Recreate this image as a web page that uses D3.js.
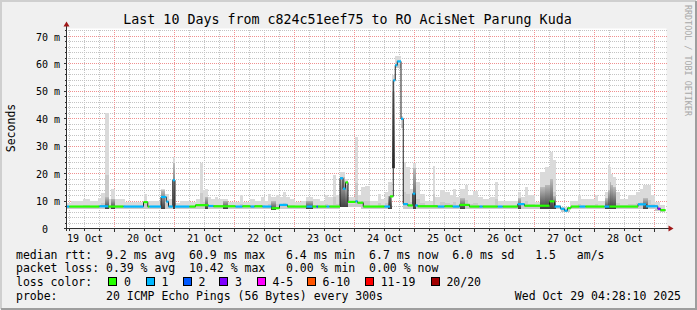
<!DOCTYPE html>
<html>
<head>
<meta charset="utf-8">
<script src="https://cdn.jsdelivr.net/npm/d3@7"></script>
<style>
  body { margin: 0; background: #f0f0f0; }
  svg text { font-family: "DejaVu Sans Mono", monospace; white-space: pre; fill: #000; }
</style>
</head>
<body>
<svg width="697" height="310"></svg>
<script>
// ---- data ----
const title = 'Last 10 Days from c824c51eef75 to RO AcisNet Parung Kuda';
const yTicks = [0, 10, 20, 30, 40, 50, 60, 70];      // ms
const yMax = 72.9;
const startHour = 4.8;                                  // hours after 19 Oct 00:00
const endHour = 244.8;
const lossLabels = ['0', '1', '2', '3', '4-5', '6-10', '11-19', '20/20'];
const lossColors = ['#26ff00', '#00b8ff', '#0059ff', '#7e00ff', '#ff00ff', '#ff5500', '#ff0000', '#a10000'];

// median rtt: [fromHour, toHour, ms, lossIndex]
const medianSegs = [
  [4.8, 6.0, 8.0, 1], [6.0, 18.0, 8.0, 0], [18.0, 21.6, 8.1, 1], [21.6, 27.6, 8.0, 0],
  [27.6, 35.6, 8.0, 1], [35.6, 37.3, 9.6, 0], [37.3, 38.0, 8.0, 0], [38.0, 42.6, 8.0, 1],
  [42.6, 44.7, 11.5, 1], [44.7, 45.6, 9.8, 1], [45.6, 47.3, 8.0, 1], [47.3, 48.2, 17.6, 1],
  [48.2, 54.0, 8.0, 1], [54.0, 56.4, 8.0, 0], [56.4, 61.6, 8.5, 0], [61.6, 63.6, 8.2, 1],
  [63.6, 72.4, 8.1, 0], [72.4, 75.2, 8.0, 1], [75.2, 78.4, 8.1, 0], [78.4, 80.0, 8.0, 1],
  [80.0, 83.2, 8.1, 0], [83.2, 86.8, 8.0, 1], [86.8, 90.0, 7.4, 0], [90.0, 93.2, 8.6, 1],
  [93.2, 100.8, 8.0, 0], [100.8, 103.2, 8.0, 1], [103.2, 104.8, 8.0, 0], [104.8, 105.4, 8.0, 2],
  [105.4, 108.8, 8.0, 0], [108.8, 110.0, 8.0, 1], [110.0, 114.2, 8.0, 0], [114.2, 115.4, 18.3, 1],
  [115.4, 116.4, 14.5, 1], [116.4, 117.4, 16.8, 0], [117.4, 120.4, 9.7, 0], [120.4, 121.2, 9.9, 1],
  [121.2, 123.5, 9.4, 0], [123.5, 132.0, 8.0, 0], [132.0, 134.2, 8.0, 1], [134.2, 135.5, 11.7, 0],
  [135.5, 136.3, 54.0, 1], [136.3, 137.1, 59.5, 1], [137.1, 138.6, 60.9, 1], [138.6, 139.5, 40.0, 1],
  [139.5, 141.3, 8.9, 1], [141.3, 143.3, 8.4, 0], [143.3, 144.3, 12.7, 1], [144.3, 145.3, 8.4, 1],
  [145.3, 153.3, 8.1, 0], [153.3, 156.0, 8.0, 1], [156.0, 159.3, 8.1, 0], [159.3, 162.0, 8.0, 1],
  [162.0, 166.0, 8.6, 0], [166.0, 170.0, 8.0, 0], [170.0, 171.3, 8.0, 1], [171.3, 177.3, 8.0, 0],
  [177.3, 179.3, 8.0, 1], [179.3, 185.3, 8.0, 0], [185.3, 188.0, 8.9, 1], [188.0, 198.0, 8.3, 0],
  [198.0, 200.0, 9.9, 0], [200.0, 202.4, 8.0, 1], [202.4, 204.0, 7.2, 1], [204.0, 205.2, 6.5, 1],
  [205.2, 206.6, 7.4, 0], [206.6, 210.0, 8.0, 0], [210.0, 212.4, 8.0, 1], [212.4, 220.0, 8.0, 0],
  [220.0, 222.0, 8.0, 1], [222.0, 233.4, 8.0, 0], [233.4, 236.6, 8.8, 1], [236.6, 241.3, 8.1, 1],
  [241.3, 242.4, 7.2, 3], [242.4, 244.4, 6.7, 0]
];

// smoke: [fromHour, toHour, minMs, maxMs, darkTopMs (0 = none)]
const smokeSegs = [
  [5.1, 6.7, 7.2, 9.3, 0], [6.7, 11.2, 7.2, 10.0, 0], [11.2, 14.0, 7.2, 10.6, 0], [14.0, 17.2, 7.2, 10.0, 0],
  [17.2, 18.4, 7.2, 11.1, 0], [18.4, 20.3, 7.2, 13.0, 0], [20.3, 21.7, 7.2, 42.0, 11.5], [21.7, 22.4, 7.2, 10.9, 0],
  [22.4, 24.0, 7.2, 14.3, 10.9], [24.0, 28.0, 7.2, 10.9, 0], [28.0, 35.6, 7.2, 9.6, 0], [35.6, 36.8, 7.2, 12.4, 0],
  [36.8, 42.4, 7.2, 10.2, 0], [42.4, 44.0, 7.2, 14.3, 13.9], [44.0, 45.6, 7.2, 12.7, 0], [45.6, 47.3, 7.2, 10.9, 0],
  [47.3, 48.3, 7.2, 26.1, 24.0], [48.3, 50.0, 7.2, 9.3, 0], [50.0, 54.0, 7.2, 10.2, 0], [54.0, 56.7, 7.2, 9.6, 0],
  [56.7, 58.0, 7.2, 10.9, 0], [58.0, 59.3, 7.2, 23.7, 0], [59.3, 60.0, 7.2, 13.9, 0], [60.0, 61.3, 7.2, 14.5, 11.5],
  [61.3, 62.7, 7.2, 11.5, 0], [62.7, 64.0, 7.2, 10.9, 0], [64.0, 65.3, 7.2, 11.5, 0], [65.3, 67.3, 7.2, 10.9, 0],
  [67.3, 69.3, 7.2, 10.9, 10.2], [69.3, 74.0, 7.2, 9.6, 0], [74.0, 75.3, 7.2, 12.1, 0], [75.3, 78.0, 7.2, 9.6, 0],
  [78.0, 80.0, 7.2, 10.6, 0], [80.0, 82.7, 7.2, 10.0, 0], [82.7, 84.0, 7.2, 11.5, 0], [84.0, 85.3, 7.2, 10.2, 0],
  [85.3, 86.7, 7.2, 12.4, 0], [86.7, 88.7, 6.8, 11.5, 10.0], [88.7, 90.0, 7.2, 12.1, 0], [90.0, 91.3, 7.2, 11.5, 0],
  [91.3, 92.7, 7.2, 13.3, 0], [92.7, 94.0, 7.2, 11.5, 0], [94.0, 96.0, 7.2, 10.9, 0], [96.0, 98.7, 7.2, 9.6, 0],
  [98.7, 100.7, 7.2, 10.2, 0], [100.7, 103.3, 7.2, 11.5, 10.2], [103.3, 106.0, 7.2, 10.9, 0], [106.0, 108.0, 7.2, 10.2, 0],
  [108.0, 109.3, 7.2, 12.1, 0], [109.3, 111.3, 7.2, 11.5, 0], [111.3, 112.7, 7.2, 19.4, 0], [112.7, 114.0, 7.2, 12.1, 0],
  [114.0, 116.0, 7.8, 20.6, 18.8], [116.0, 117.3, 7.8, 18.2, 16.0], [117.3, 120.0, 7.8, 11.5, 0], [120.0, 121.3, 7.8, 33.4, 0],
  [121.3, 122.7, 7.8, 12.1, 0], [122.7, 124.0, 7.2, 15.1, 0], [124.0, 126.0, 7.2, 15.4, 0], [126.0, 129.3, 7.2, 10.2, 0],
  [129.3, 130.7, 7.2, 12.7, 0], [130.7, 132.0, 7.2, 10.9, 0], [132.0, 133.3, 7.2, 13.3, 0], [133.3, 134.9, 7.2, 17.0, 12.0],
  [134.9, 136.0, 22.0, 56.0, 50.0], [136.0, 138.4, 58.5, 62.7, 0], [138.4, 139.5, 36.5, 41.0, 0], [139.5, 140.7, 7.2, 24.3, 0],
  [140.7, 142.0, 7.2, 22.4, 0], [142.0, 143.3, 7.2, 14.5, 0], [143.3, 144.4, 7.2, 23.7, 22.0], [144.4, 146.0, 7.2, 16.9, 0],
  [146.0, 148.0, 7.2, 12.7, 0], [148.0, 151.3, 7.2, 10.2, 0], [151.3, 152.3, 7.2, 22.7, 0], [152.3, 154.0, 7.2, 11.5, 0],
  [154.0, 156.0, 7.2, 13.9, 0], [156.0, 158.0, 7.2, 13.3, 0], [158.0, 159.3, 7.2, 12.1, 0], [159.3, 160.7, 7.2, 14.5, 0],
  [160.7, 162.0, 7.2, 11.5, 0], [162.0, 164.0, 7.2, 14.5, 11.0], [164.0, 165.3, 7.2, 16.0, 0], [165.3, 167.3, 7.2, 12.1, 0],
  [167.3, 169.3, 7.2, 13.5, 0], [169.3, 171.3, 7.2, 11.5, 0], [171.3, 174.0, 7.2, 10.9, 0], [174.0, 176.3, 7.2, 11.5, 0],
  [176.3, 177.3, 7.2, 16.9, 0], [177.3, 185.3, 7.2, 10.2, 0], [185.3, 186.7, 7.2, 13.3, 11.0], [186.7, 188.0, 7.2, 11.5, 0],
  [188.0, 189.3, 7.2, 15.1, 0], [189.3, 192.0, 7.2, 12.1, 0], [192.0, 194.0, 7.2, 9.6, 0], [194.0, 196.0, 7.2, 20.6, 15.0],
  [196.0, 198.0, 7.2, 22.4, 16.0], [198.0, 199.3, 7.2, 27.9, 18.0], [199.3, 200.7, 7.2, 24.9, 12.0], [200.7, 202.7, 7.2, 8.4, 0],
  [202.7, 206.0, 6.0, 8.0, 0], [206.0, 209.3, 7.2, 10.2, 0], [209.3, 210.7, 7.2, 12.1, 0], [210.7, 216.0, 7.2, 10.9, 0],
  [216.0, 217.3, 7.2, 12.1, 0], [217.3, 220.0, 7.2, 10.2, 0], [220.0, 221.3, 7.2, 13.3, 11.0], [221.3, 222.0, 7.2, 23.1, 14.0],
  [222.0, 222.7, 7.2, 22.4, 17.0], [222.7, 223.3, 7.2, 20.0, 16.0], [223.3, 224.7, 7.2, 18.8, 15.0], [224.7, 226.0, 7.2, 13.3, 0],
  [226.0, 229.3, 7.2, 10.9, 0], [229.3, 232.7, 7.2, 12.1, 0], [232.7, 234.0, 7.2, 13.3, 0], [234.0, 235.3, 7.2, 14.5, 0],
  [235.3, 237.3, 7.2, 15.7, 11.0], [237.3, 238.4, 7.2, 16.0, 0], [238.4, 240.0, 7.2, 12.1, 0], [240.0, 242.0, 6.5, 9.6, 0],
  [242.0, 244.3, 6.0, 8.4, 0]
];

const rttStats = [9.2, 60.9, 6.4, 6.7, 6.0, 1.5];   // avg, max, min, now, sd, am/s
const lossStats = [0.39, 10.42, 0.00, 0.00];         // avg, max, min, now
const probeText = '20 ICMP Echo Pings (56 Bytes) every 300s';
const stamp = 'Wed Oct 29 04:28:10 2025';

// ---- drawing ----
const W = 697, H = 310;
const pL = 66.5, pR = 666.5, pT = 28.5, pB = 228.5;
const base = Date.UTC(2025, 9, 19);
const toDate = (h) => new Date(base + h * 3600e3);

const x = d3.scaleUtc().domain([toDate(startHour), toDate(endHour)]).range([pL, pR]);
const y = d3.scaleLinear().domain([0, yMax]).range([pB, pT]);
const xh = (h) => x(toDate(h));
const px = (v) => Math.floor(v);

const svg = d3.select('svg');
const defs = svg.append('defs');

// background + 3d border
svg.append('rect').attr('width', W).attr('height', H).attr('fill', '#f0f0f0');
svg.append('path').attr('d', `M1,${H - 1}V1H${W - 1}`).attr('fill', 'none')
  .attr('stroke', '#cfcfcf').attr('stroke-width', 2);
svg.append('path').attr('d', `M1,${H - 1}H${W - 1}V1`).attr('fill', 'none')
  .attr('stroke', '#9e9e9e').attr('stroke-width', 2);
svg.append('rect').attr('x', pL).attr('y', pT).attr('width', pR - pL).attr('height', pB - pT)
  .attr('fill', '#fff');

// dotted grid drawn as 1px strips filled with an on/off pixel pattern
function dotPattern(id, col, horizontal) {
  const p = defs.append('pattern').attr('id', id).attr('patternUnits', 'userSpaceOnUse')
    .attr('width', horizontal ? 2 : 1).attr('height', horizontal ? 1 : 2);
  p.append('rect').attr('width', 1).attr('height', 1).attr('fill', col);
}
dotPattern('hmin', '#c4c4c4', true);
dotPattern('vmin', '#c4c4c4', false);
dotPattern('hmaj', '#f09090', true);
dotPattern('vmaj', '#f09090', false);

const grid = svg.append('g').attr('shape-rendering', 'crispEdges');
const hStrip = (sel, pat) => sel
  .attr('x', 67).attr('width', 600).attr('y', (d) => px(y(d))).attr('height', 1)
  .attr('fill', `url(#${pat})`);
const vStrip = (sel, pat) => sel
  .attr('x', (d) => px(x(d))).attr('width', 1).attr('y', 29).attr('height', 199)
  .attr('fill', `url(#${pat})`);
const minorY = d3.range(0, yMax, 2).filter((v) => v % 10 !== 0);
const sixHours = d3.utcHour.every(6).range(toDate(startHour), toDate(endHour));
const days = d3.utcDay.range(toDate(startHour), toDate(endHour));
grid.selectAll('.hmin').data(minorY).join('rect').call(hStrip, 'hmin');
grid.selectAll('.vmin').data(sixHours.filter((d) => d.getUTCHours() !== 0)).join('rect').call(vStrip, 'vmin');
grid.selectAll('.hmaj').data(yTicks.slice(1)).join('rect').call(hStrip, 'hmaj');
grid.selectAll('.vmaj').data(days).join('rect').call(vStrip, 'vmaj');

// smoke
const grad = defs.append('linearGradient').attr('id', 'dark').attr('x1', 0).attr('y1', 1).attr('x2', 0).attr('y2', 0);
grad.append('stop').attr('offset', '0%').attr('stop-color', '#404040');
grad.append('stop').attr('offset', '100%').attr('stop-color', '#bcbcbc');

const midTop = (d) => d[2] + (d[3] - d[2]) * 0.35;
const smoke = svg.append('g').attr('shape-rendering', 'crispEdges');
smoke.selectAll('.light').data(smokeSegs).join('rect')
  .attr('x', (d) => xh(d[0])).attr('width', (d) => xh(d[1]) - xh(d[0]))
  .attr('y', (d) => y(d[3])).attr('height', (d) => y(d[2]) - y(d[3]))
  .attr('fill', '#dadada');
smoke.selectAll('.mid').data(smokeSegs).join('rect')
  .attr('x', (d) => xh(d[0])).attr('width', (d) => xh(d[1]) - xh(d[0]))
  .attr('y', (d) => y(midTop(d))).attr('height', (d) => y(d[2]) - y(midTop(d)))
  .attr('fill', '#cacaca');
smoke.selectAll('.dark').data(smokeSegs.filter((d) => d[4] > 0)).join('rect')
  .attr('x', (d) => xh(d[0])).attr('width', (d) => xh(d[1]) - xh(d[0]))
  .attr('y', (d) => y(d[4])).attr('height', (d) => y(d[2]) - y(d[4]))
  .attr('fill', 'url(#dark)');

// median: thin dark step line, then loss-coloured pieces
const pts = [];
medianSegs.forEach((s) => { pts.push([xh(s[0]), y(s[2])], [xh(s[1]), y(s[2])]); });
svg.append('path').attr('d', d3.line()(pts)).attr('fill', 'none')
  .attr('stroke', '#202020').attr('stroke-width', 1);
svg.append('g').selectAll('line').data(medianSegs).join('line')
  .attr('x1', (d) => xh(d[0])).attr('x2', (d) => xh(d[1]))
  .attr('y1', (d) => y(d[2])).attr('y2', (d) => y(d[2]))
  .attr('stroke', (d) => lossColors[d[3]]).attr('stroke-width', 2.2);

// axes
const axisCol = '#303030';
const arrowCol = '#a01818';
const ticks = svg.append('g').attr('shape-rendering', 'crispEdges').attr('stroke', axisCol);
ticks.selectAll('.yt').data(d3.range(0, yMax, 2)).join('line')
  .attr('x1', (d) => (d % 10 === 0 ? pL - 3 : pL - 2)).attr('x2', pL)
  .attr('y1', (d) => px(y(d)) + 0.5).attr('y2', (d) => px(y(d)) + 0.5);
ticks.selectAll('.xt').data(sixHours).join('line')
  .attr('x1', (d) => px(x(d)) + 0.5).attr('x2', (d) => px(x(d)) + 0.5)
  .attr('y1', pB).attr('y2', (d) => (d.getUTCHours() === 0 ? pB + 3 : pB + 2));
svg.append('line').attr('x1', pL).attr('x2', pL).attr('y1', pB + 2).attr('y2', pT - 4)
  .attr('stroke', axisCol).attr('shape-rendering', 'crispEdges');
svg.append('line').attr('x1', pL - 2).attr('x2', pR + 3).attr('y1', pB).attr('y2', pB)
  .attr('stroke', axisCol).attr('shape-rendering', 'crispEdges');
svg.append('path').attr('d', `M${pL - 3},${pT - 2}L${pL + 3},${pT - 2}L${pL},${pT - 7}Z`).attr('fill', arrowCol);
svg.append('path').attr('d', `M${pR + 2},${pB - 3}L${pR + 2},${pB + 3}L${pR + 7},${pB}Z`).attr('fill', arrowCol);

const yAxis = svg.append('g').attr('transform', `translate(${pL},0)`)
  .call(d3.axisLeft(y).tickValues(yTicks).tickSize(0).tickPadding(6.5)
    .tickFormat((d) => (d === 0 ? '0  ' : `${d} m`)));
yAxis.select('.domain').remove();
yAxis.selectAll('text').attr('dy', null).attr('y', 3.6)
  .style('font-family', '"DejaVu Sans Mono", monospace').style('font-size', '10px');

const noons = [toDate(12)].concat(days.map((d) => d3.utcHour.offset(d, 12)))
  .filter((d) => d < toDate(endHour - 12));
const xAxis = svg.append('g').attr('transform', `translate(0,${pB})`)
  .call(d3.axisBottom(x).tickValues(noons).tickSize(0).tickFormat(d3.utcFormat('%d %b')));
xAxis.select('.domain').remove();
xAxis.selectAll('text').attr('dy', null).attr('y', 13)
  .style('font-family', '"DejaVu Sans Mono", monospace').style('font-size', '10px');

// titles
svg.append('text').attr('x', 347.5).attr('y', 24).attr('text-anchor', 'middle')
  .style('font-size', '13.3px').text(title);
svg.append('text').attr('transform', 'translate(15,128) rotate(-90)').attr('text-anchor', 'middle')
  .style('font-size', '11.5px').text('Seconds');
svg.append('text').attr('transform', 'translate(685,5) rotate(90)')
  .style('font-size', '8.4px').style('fill', '#a8a8a8').text('RRDTOOL / TOBI OETIKER');

// legend
const f1 = (v) => v.toFixed(1);
const f2 = (v) => v.toFixed(2);
const rows = [
  `median rtt:  ${f1(rttStats[0])} ms avg  ${f1(rttStats[1])} ms max   ${f1(rttStats[2])} ms min  ${f1(rttStats[3])} ms now  ${f1(rttStats[4])} ms sd   ${f1(rttStats[5])}   am/s`,
  `packet loss: ${f2(lossStats[0])} % avg  ${f2(lossStats[1])} % max   ${f2(lossStats[2])} % min  ${f2(lossStats[3])} % now`,
  'loss color:',
  `probe:       ${probeText}`
];
const rowY = [258.8, 272.3, 286, 299.8];
const legend = svg.append('g').style('font-size', '11.5px');
legend.selectAll('.row').data(rows).join('text')
  .attr('x', 16).attr('y', (d, i) => rowY[i]).text((d) => d);
legend.append('text').attr('x', 681).attr('y', rowY[3]).attr('text-anchor', 'end').text(stamp);

const boxX = [108.3, 145.7, 182.7, 219.3, 256.7, 306.7, 365, 430.7];
const items = legend.selectAll('.item').data(lossLabels).join('g')
  .attr('transform', (d, i) => `translate(${boxX[i]},0)`);
items.append('rect').attr('x', 0.5).attr('y', 277.5).attr('width', 8).attr('height', 8)
  .attr('fill', (d, i) => lossColors[i]).attr('stroke', '#000').attr('shape-rendering', 'crispEdges');
items.append('text').attr('x', 15.7).attr('y', rowY[2]).text((d) => d);
</script>
</body>
</html>
